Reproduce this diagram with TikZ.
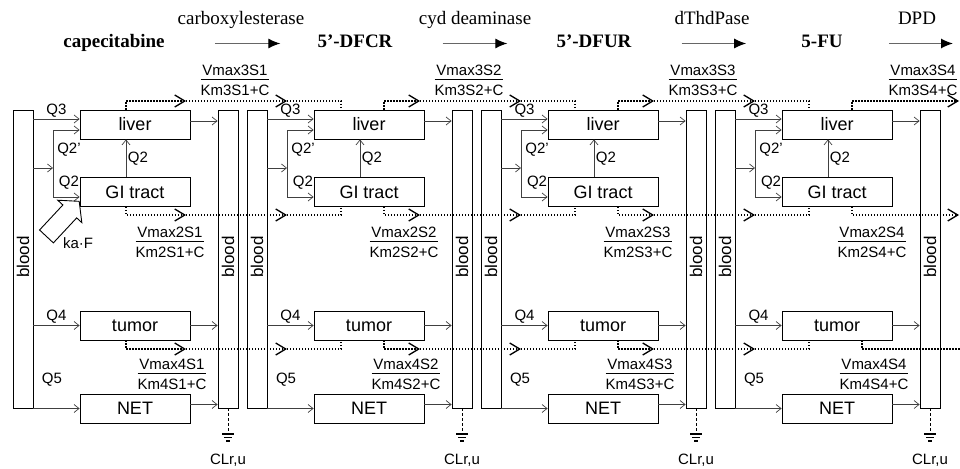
\documentclass[tikz,border=0pt]{standalone}
\usepackage{fontspec}
\usepackage{amsmath}
\setmainfont{Liberation Serif}
\setsansfont{Liberation Sans}
\usetikzlibrary{arrows.meta,shapes.arrows}
\tikzset{
  organ/.style={draw, line width=0.8pt, minimum width=110pt, minimum height=29pt, font=\sffamily\fontsize{18}{20}\selectfont},
  column/.style={draw, line width=0.8pt, minimum width=20pt, minimum height=298pt},
  vlab/.style={rotate=90, inner sep=0pt, font=\sffamily\fontsize{17}{19}\selectfont},
  flow/.style={draw=black!75, line width=0.7pt, -{Straight Barb[length=5pt,width=8pt]}},
  met/.style={line width=1.4pt, dash pattern=on 1.4pt off 1.6pt},
  mettip/.style={-{Straight Barb[length=10pt,width=12pt,line width=1.3pt]}},
  qlab/.style={font=\sffamily\fontsize{15}{17}\selectfont, inner sep=1.5pt},
  rate/.style={font=\sffamily\fontsize{15}{17}\selectfont, inner sep=0pt},
  drug/.style={font=\bfseries\fontsize{19}{21}\selectfont, inner sep=0pt, text height=13pt, text depth=4pt},
  enzyme/.style={font=\fontsize{19}{21}\selectfont, inner sep=0pt, text height=13pt, text depth=4pt},
  react/.style={draw=black!60, line width=1.2pt, -{Latex[length=12pt,width=10pt,color=black]}},
  blockarrow/.style={single arrow, draw, line width=0.9pt, minimum height=48pt, inner sep=9pt, single arrow head extend=7pt, single arrow tip angle=100},
}
\newcommand{\ratio}[2]{$\dfrac{\raisebox{-1.5pt}{\text{#1}}}{\raisebox{-2pt}{\text{#2}}}$}
\begin{document}
\begin{tikzpicture}[x=1pt,y=-1pt]
\useasboundingbox (0,0) rectangle (960,468);
% reaction chain
\node[drug] (cap) at (114,43.5) {capecitabine};
\node[drug] (dfcr) at (355,43.5) {5'-DFCR};
\node[drug] (dfur) at (594,43.5) {5'-DFUR};
\node[drug] (fu) at (822,43.5) {5-FU};
\coordinate (fuend) at (953,43.5);
\node[enzyme] (ces) at (241,20.5) {carboxylesterase};
\node[enzyme] (cda) at (475,20.5) {cyd deaminase};
\node[enzyme] (tp) at (712,20.5) {dThdPase};
\node[enzyme] (dpd) at (917,20.5) {DPD};
\draw[react, shorten <=50pt, shorten >=37pt] (cap) -- (dfcr);
\draw[react, shorten <=50pt, shorten >=49pt] (dfcr) -- (dfur);
\draw[react, shorten <=50pt, shorten >=55pt] (dfur) -- (fu);
\draw[react, shorten <=46pt] (fu) -- (fuend);
% one model per species
\foreach \k/\o/\r in {1/0/235, 2/234/469, 3/468/703, 4/702/923}{
  \node[column] (bloodL\k) at (23+\o,259) {};
  \node[column] (bloodR\k) at (228+\o,259) {};
  \node[vlab] at (23+\o,257) {blood};
  \node[vlab] at (228+\o,257) {blood};
  \node[organ] (liver\k) at (135+\o,124.5) {liver};
  \node[organ] (gi\k) at (135+\o,192) {GI tract};
  \node[organ] (tumor\k) at (135+\o,325.5) {tumor};
  \node[organ] (net\k) at (135+\o,408.5) {NET};
  % inflows
  \coordinate (qin\k) at ([yshift=5.5pt]liver\k.west);
  \draw[flow] (bloodL\k.east |- qin\k) -- node[qlab, above] {Q3} (qin\k);
  \coordinate (split\k) at (53+\o,168);
  \draw[flow] (bloodL\k.east |- split\k) -- (split\k);
  \draw[flow] (split\k) |- ([yshift=-5.5pt]liver\k.west);
  \draw[flow] (split\k) |- ([yshift=-5pt]gi\k.west);
  \node[qlab] at (69+\o,150) {Q2'};
  \node[qlab] at (69+\o,183) {Q2};
  \draw[flow] ([xshift=-9pt]gi\k.north) -- node[qlab, right] {Q2} ([xshift=-9pt]liver\k.south);
  \draw[flow] (bloodL\k.east |- tumor\k.west) -- node[qlab, above] {Q4} (tumor\k.west);
  \draw[flow] (bloodL\k.east |- net\k.west) -- (net\k.west);
  \node[qlab] at (52+\o,380) {Q5};
  % outflows
  \coordinate (lout\k) at ([yshift=3.5pt]liver\k.east);
  \draw[flow] (lout\k) -- (lout\k -| bloodR\k.west);
  \draw[flow] (tumor\k.east) -- (tumor\k.east -| bloodR\k.west);
  \coordinate (nout\k) at ([yshift=4pt]net\k.east);
  \draw[flow] (nout\k) -- (nout\k -| bloodR\k.west);
  % renal clearance
  \coordinate (gnd\k) at (228+\o,434);
  \draw[densely dashed, line width=0.7pt] (bloodR\k.south) -- (gnd\k);
  \draw[line width=1.2pt] ([xshift=-6pt]gnd\k) -- ([xshift=6pt]gnd\k)
    ([xshift=-4pt,yshift=-3.5pt]gnd\k) -- ([xshift=4pt,yshift=-3.5pt]gnd\k)
    ([xshift=-2pt,yshift=-7pt]gnd\k) -- ([xshift=2pt,yshift=-7pt]gnd\k);
  \node[qlab] at (228+\o,460) {CLr,u};
  % rates
  \node[rate] at (\r,80) {\ratio{Vmax3S\k}{Km3S\k+C}};
  \node[rate] at (170+\o,242) {\ratio{Vmax2S\k}{Km2S\k+C}};
  \node[rate] at (172+\o,374) {\ratio{Vmax4S\k}{Km4S\k+C}};
}
% oral dose
\node[blockarrow, rotate=47, anchor=tip] (kaF) at ([yshift=6pt]gi1.south west) {};
\node[qlab] at (78,243) {ka·F};
% metabolite transfer
\foreach \k/\n/\s in {1/2/-9, 2/3/15, 3/4/15}{
  \pgfmathsetmacro\ha{186+234*(\k-1)}
  \pgfmathsetmacro\hb{287+234*(\k-1)}
  \draw[met,mettip] ([xshift=\s pt]liver\k.north) |- (\ha,101);
  \draw[met,mettip] (\ha,101) -- (\hb,101);
  \draw[met] (\hb,101) -| ([xshift=-28pt]liver\n.north);
  \draw[met,mettip] ([xshift=\s pt]gi\k.south) |- (\ha,215);
  \draw[met,mettip] (\ha,215) -- (\hb,215);
  \draw[met] (\hb,215) -| ([xshift=-28pt]gi\n.south);
  \draw[met,mettip] ([xshift=\s pt]tumor\k.south) |- (\ha,349);
  \draw[met,mettip] (\ha,349) -- (\hb,349);
  \draw[met] (\hb,349) -| ([xshift=-28pt]tumor\n.south);
}
\draw[met,mettip] ([xshift=15pt]liver4.north) |- (959,101);
\draw[met,mettip] ([xshift=15pt]gi4.south) |- (959,215);
\draw[met] ([xshift=25pt]tumor4.south) |- (962,349);
\end{tikzpicture}
\end{document}
